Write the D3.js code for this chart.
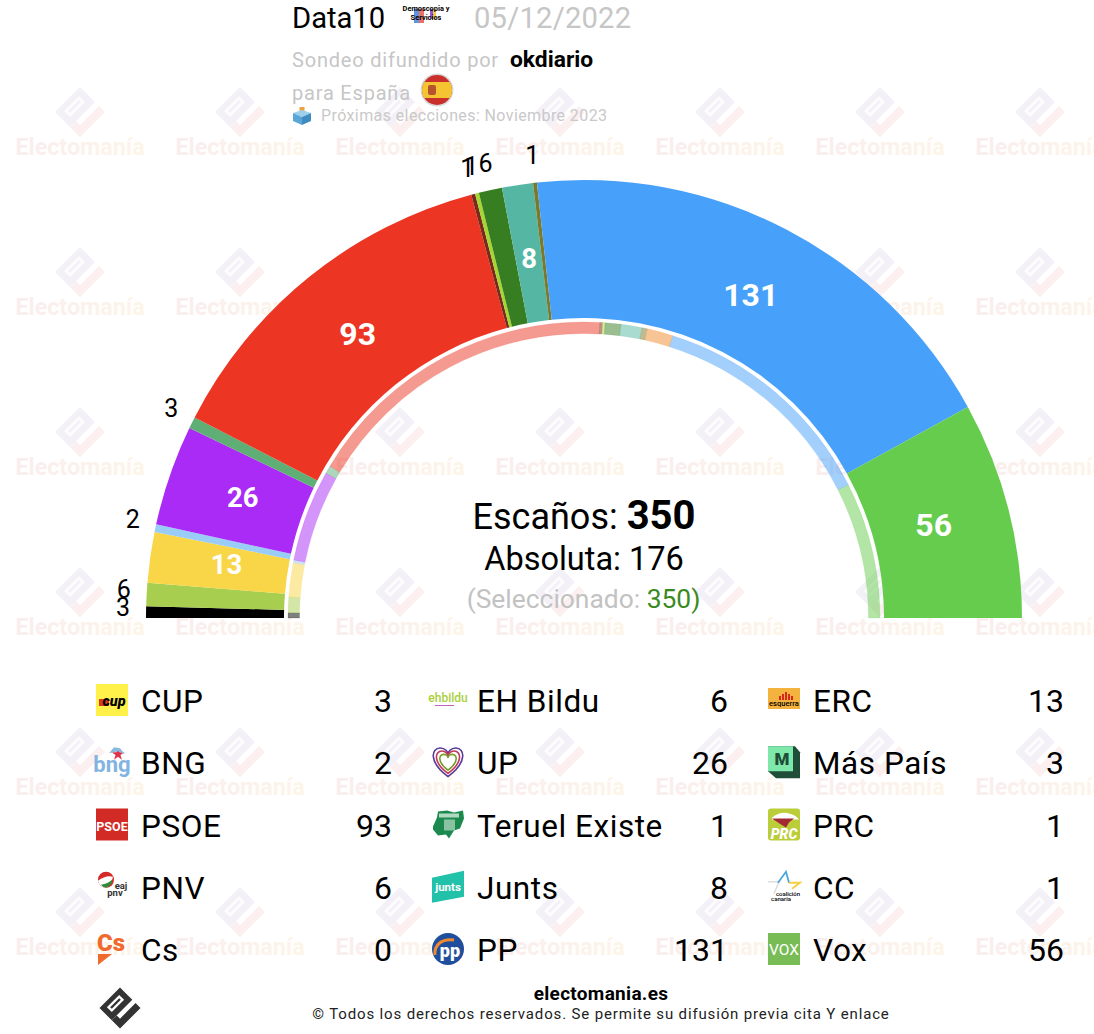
<!DOCTYPE html>
<html><head><meta charset="utf-8">
<script src="https://cdn.jsdelivr.net/npm/d3@7"></script>
<style>
html,body{margin:0;padding:0;background:#fff}
svg{display:block}
text{font-family:Roboto,sans-serif}
</style></head><body>
<svg id="c" width="1094" height="1034"></svg>
<script>
// ---- data ----
const arcParties = ["CUP","EH Bildu","ERC","BNG","UP","Más País","PSOE","Teruel Existe","PRC","PNV","Junts","CC","PP","Vox"];
const arcSeats   = [3,6,13,2,26,3,93,1,1,6,8,1,131,56];
const arcColors  = ["#000000","#a7ce4f","#f9d648","#99ccf7","#a92bf5","#5fae75","#ec3523","#7a2a1a","#a6d632","#377d22","#55b7a3","#7b7a2a","#47a0f9","#66cc4e"];
const prevParties= ["CUP","EH Bildu","ERC","BNG","UP","Más País","PSOE","Teruel Existe","PRC","PNV","Junts","CC","Cs","PP","Vox"];
const prevSeats  = [2,6,13,1,35,3,121,1,1,6,8,2,10,89,52];
const prevColors = ["#000000","#a7ce4f","#f9d648","#99ccf7","#a92bf5","#5fae75","#ec3523","#7a2a1a","#a6d632","#377d22","#55b7a3","#7b7a2a","#f08a2c","#47a0f9","#66cc4e"];
const legendCol1 = ["CUP","BNG","PSOE","PNV","Cs"];
const legendVal1 = [3,2,93,6,0];
const legendCol2 = ["EH Bildu","UP","Teruel Existe","Junts","PP"];
const legendVal2 = [6,26,1,8,131];
const legendCol3 = ["ERC","Más País","PRC","CC","Vox"];
const legendVal3 = [13,3,1,1,56];
const totalSeats = 350;
const absolute = 176;
const selected = 350;

const svg = d3.select("#c");
const defs = svg.append("defs");
const wg = defs.append("linearGradient").attr("id","wm");
wg.append("stop").attr("offset","0").attr("stop-color","#f9edee");
wg.append("stop").attr("offset","1").attr("stop-color","#fdf5e8");

// Electomanía mark, centred on 0,0
function mark(g, cBlock, cCheck, slot){
  g.append("path").attr("d","M-25,0L0,-25L15,-10L-10,15Z").attr("fill",cBlock);
  g.append("path").attr("d","M-16,-1L-1,-16L5,-10L-10,5Z").attr("fill",slot);
  g.append("path").attr("d","M-12,-1L-1,-12L1,-10L-10,1Z").attr("fill",cBlock);
  g.append("path").attr("d","M0,25L25,0L19,-6L0,13L-4,9L-10,15Z").attr("fill",cCheck);
}
// watermark grid
const wmX = d3.range(80,1100,160), wmY = d3.range(112,1000,160);
const wm = svg.append("g");
wmY.forEach(y=>wmX.forEach(x=>{
  const g = wm.append("g").attr("transform",`translate(${x},${y})`);
  mark(g,"#f4f0f7","#fbeff0","#fdfcfd");
  g.append("text").attr("y",43).attr("text-anchor","middle").attr("font-size",23.3).attr("font-weight",700)
   .attr("fill","url(#wm)").text("Electomanía");
}));

// ---- hemicycle ----
const cx=584, cy=618;
const angle = d3.scaleLinear().domain([0,totalSeats]).range([-Math.PI/2,Math.PI/2]);
const chart = svg.append("g").attr("transform",`translate(${cx},${cy})`);
const mainArc = d3.arc().innerRadius(300).outerRadius(438);
const ringArc = d3.arc().innerRadius(284.5).outerRadius(296);
const cumA = [0,...d3.cumsum(arcSeats)];
const cumP = [0,...d3.cumsum(prevSeats)];

chart.selectAll("path.m").data(arcSeats).join("path").attr("class","m")
  .attr("d",(d,i)=>mainArc({startAngle:angle(cumA[i]),endAngle:angle(cumA[i+1])}))
  .attr("fill",(d,i)=>arcColors[i]);
chart.selectAll("path.r").data(prevSeats).join("path").attr("class","r")
  .attr("d",(d,i)=>ringArc({startAngle:angle(cumP[i]),endAngle:angle(cumP[i+1])}))
  .attr("fill",(d,i)=>prevColors[i]).attr("fill-opacity",.5)
  .attr("stroke",(d,i)=>prevColors[i]).attr("stroke-opacity",.25).attr("stroke-width",.6);

const pt=(i,r)=>{const a=angle((cumA[i]+cumA[i+1])/2);return [r*Math.sin(a),-r*Math.cos(a)];};
chart.selectAll("text.v").data(arcSeats).join("text").attr("class","v")
  .attr("text-anchor","middle").attr("dominant-baseline","central")
  .each(function(d,i){
    const big=d>=8, p=pt(i,big?361:461);
    d3.select(this).attr("x",p[0]).attr("y",p[1]+(big?-3:-4))
      .attr("font-size",big?(d>=50?32:27.5):25).attr("font-weight",big?700:400)
      .attr("fill",big?"#fff":"#000").text(d);
  });

// ---- centre text ----
const ct = svg.append("g").attr("text-anchor","middle");
const t1 = ct.append("text").attr("x",584).attr("y",529).attr("font-size",36);
t1.append("tspan").text("Escaños: ");
t1.append("tspan").attr("font-weight",700).attr("font-size",40).text(totalSeats);
ct.append("text").attr("x",584).attr("y",570).attr("font-size",32.5).text("Absoluta: "+absolute);
const t3 = ct.append("text").attr("x",583.5).attr("y",608).attr("font-size",26.4).attr("fill","#c2c2c2");
t3.append("tspan").text("(Seleccionado: ");
t3.append("tspan").attr("fill","#3a8a22").text(selected);
t3.append("tspan").attr("fill","#3a8a22").text(")");

// ---- header ----
const h = svg.append("g");
h.append("text").attr("x",292).attr("y",28).attr("font-size",29.2).text("Data10");
h.append("text").attr("x",474).attr("y",28).attr("font-size",29.2).attr("letter-spacing",.2).attr("fill","#c6c6c6").text("05/12/2022");
h.append("text").attr("x",292).attr("y",67).attr("font-size",20).attr("letter-spacing",.8).attr("fill","#c6c6c6").text("Sondeo difundido por");
h.append("text").attr("x",510).attr("y",67).attr("font-size",22.8).attr("font-weight",700).text("okdiario");
h.append("text").attr("x",292).attr("y",100).attr("font-size",20).attr("letter-spacing",.8).attr("fill","#c6c6c6").text("para España");
h.append("text").attr("x",321).attr("y",121).attr("font-size",16).attr("letter-spacing",.4).attr("fill","#c9c9c9").text("Próximas elecciones: Noviembre 2023");
// pollster logo
const pl=h.append("g").attr("transform","translate(403,6)");
[["#3a78d8",11,5,14],["#e05040",16,5,14],["#7a2ad0",27,3,10],["#f0c020",30,3,10]].forEach(b=>
  pl.append("rect").attr("x",b[1]).attr("y",3).attr("width",b[2]).attr("height",b[3]).attr("fill",b[0]).attr("opacity",.8));
pl.append("text").attr("x",23).attr("y",5).attr("text-anchor","middle").attr("font-size",7.4).attr("font-weight",700).text("Demoscopia y");
pl.append("text").attr("x",23).attr("y",14).attr("text-anchor","middle").attr("font-size",7.4).attr("font-weight",700).text("Servicios");
// flag
const fl=h.append("g").attr("transform","translate(437,90)");
defs.append("clipPath").attr("id","fc").append("circle").attr("r",15);
fl.append("circle").attr("r",16.5).attr("fill","#d8d8d8");
const fc=fl.append("g").attr("clip-path","url(#fc)");
fc.append("rect").attr("x",-16).attr("y",-16).attr("width",32).attr("height",32).attr("fill","#c9302c");
fc.append("rect").attr("x",-16).attr("y",-8).attr("width",32).attr("height",16).attr("fill","#f4c531");
fc.append("rect").attr("x",-9).attr("y",-5).attr("width",8).attr("height",10).attr("rx",2).attr("fill","#b5532c");
// ballot icon
const bi=h.append("g").attr("transform","translate(302,116)");
bi.append("rect").attr("x",-2.5).attr("y",-9).attr("width",5).attr("height",6).attr("fill","#f0a040");
bi.append("path").attr("d","M-9,-3L0,-6L9,-3L0,1Z").attr("fill","#9dd0ea");
bi.append("path").attr("d","M-9,-3L0,1V9L-9,5Z").attr("fill","#5ba6d6");
bi.append("path").attr("d","M9,-3L0,1V9L9,5Z").attr("fill","#3f8cc0");

// ---- legend ----
const rowY = d3.scalePoint().domain(d3.range(5)).range([701,950]);
const logos = {
 "CUP":g=>{g.append("rect").attr("width",32).attr("height",32).attr("fill","#fff04a");
   g.append("rect").attr("x",3).attr("y",15).attr("width",10).attr("height",7).attr("fill","#d83a20");
   g.append("text").attr("x",18).attr("y",22).attr("text-anchor","middle").attr("font-size",14.5).attr("font-weight",900).attr("font-style","italic").text("cup");},
 "BNG":g=>{g.append("path").attr("d",d3.symbol(d3.symbolStar,50)()).attr("transform","translate(22,8)").attr("fill","#e0304a");
   g.append("path").attr("d","M13,7L18,1L24,2L29,8L22,5Z").attr("fill","#8ab8e0");
   g.append("text").attr("x",16).attr("y",26).attr("text-anchor","middle").attr("font-size",22).attr("font-weight",700).attr("fill","#82b4e2").text("bng");},
 "PSOE":g=>{g.append("rect").attr("width",32).attr("height",32).attr("fill","#d22b25");
   g.append("text").attr("x",16).attr("y",22).attr("text-anchor","middle").attr("font-size",12.5).attr("font-weight",700).attr("fill","#fff").text("PSOE");},
 "PNV":g=>{g.append("circle").attr("cx",10).attr("cy",9).attr("r",8).attr("fill","#d42a2a");
   g.append("path").attr("d","M2,10Q10,4 17,6Q15,16 8,17Q3,15 2,10Z").attr("fill","#fff");
   g.append("path").attr("d","M5,14Q12,13 16,9Q17,14 10,17Q7,17 5,14Z").attr("fill","#2f8a3a");
   g.append("text").attr("x",25).attr("y",18).attr("text-anchor","middle").attr("font-size",9.5).attr("font-weight",700).attr("fill","#333").text("eaj");
   g.append("text").attr("x",19).attr("y",25).attr("text-anchor","middle").attr("font-size",9.5).attr("font-weight",700).attr("fill","#333").text("pnv");},
 "Cs":g=>{g.append("text").attr("x",1).attr("y",18).attr("font-size",24).attr("font-weight",900).attr("fill","#ef6a2c").text("Cs");
   g.append("path").attr("d","M2,21H16L2,32Z").attr("fill","#ef6a2c");},
 "EH Bildu":g=>{g.append("text").attr("x",16).attr("y",18).attr("text-anchor","middle").attr("font-size",12).attr("font-weight",500).attr("fill","#a9cf3c").text("ehbildu");
   g.append("rect").attr("x",3).attr("y",21).attr("width",19).attr("height",1).attr("fill","#c060c0");},
 "UP":g=>{const hp="M0,11C-15,0 -13,-11 -6,-11C-2,-11 0,-8 0,-6C0,-8 2,-11 6,-11C13,-11 15,0 0,11Z";
   [[1.3,"#5a3a9a"],[1.02,"#c0395a"],[.72,"#7a9a2a"]].forEach(a=>g.append("path").attr("d",hp)
    .attr("transform",`translate(16,16) scale(${a[0]})`).attr("fill","none").attr("stroke",a[1]).attr("stroke-width",1.6/a[0]));},
 "Teruel Existe":g=>{g.append("path").attr("d","M1,18L5,9L6,3L15,2L22,4L31,2L32,10L28,20L22,22L17,30L14,26L6,27L1,21Z").attr("fill","#1c8a4e");
   g.append("rect").attr("x",7).attr("y",5).attr("width",20).attr("height",4).attr("fill","#d8ecdf").attr("opacity",.8);
   g.append("rect").attr("x",12).attr("y",11).attr("width",11).attr("height",11).attr("fill","#b8dcc5").attr("opacity",.7);},
 "Junts":g=>{g.append("path").attr("d","M0,7L32,0V26L0,32Z").attr("fill","#22c1aa");
   g.append("text").attr("x",16).attr("y",20).attr("text-anchor","middle").attr("font-size",11.5).attr("font-weight",700).attr("fill","#fff").text("junts");},
 "PP":g=>{g.append("circle").attr("cx",16).attr("cy",16).attr("r",16).attr("fill","#1f4f9c");
   g.append("path").attr("d","M3,22C2,12 10,5 22,7").attr("fill","none").attr("stroke","#f08a30").attr("stroke-width",3);
   g.append("text").attr("x",18).attr("y",24).attr("text-anchor","middle").attr("font-size",18).attr("font-weight",900).attr("fill","#fff").text("pp");},
 "ERC":g=>{g.append("rect").attr("y",4).attr("width",32).attr("height",21).attr("fill","#f4b33e");
   [[11,4],[14,6],[17,8],[20,6],[23,4]].forEach(b=>g.append("rect").attr("x",b[0]).attr("y",16-b[1]).attr("width",2).attr("height",b[1]).attr("fill","#d8281e"));
   g.append("text").attr("x",16).attr("y",22).attr("text-anchor","middle").attr("font-size",7.6).attr("font-weight",500).text("esquerra");},
 "Más País":g=>{g.append("path").attr("d","M0,25V0H27L32,6V32H8Z").attr("fill","#1f4d38");
   g.append("rect").attr("width",25).attr("height",25).attr("fill","#7ee8aa");
   g.append("text").attr("x",14).attr("y",19).attr("text-anchor","middle").attr("font-size",17).attr("font-weight",900).attr("fill","#1f4d38").text("M");},
 "PRC":g=>{g.append("rect").attr("width",32).attr("height",32).attr("rx",3).attr("fill","#bccd3a");
   g.append("path").attr("d","M4,9Q15,0 28,8L31,11H4Z").attr("fill","#fff");
   g.append("path").attr("d","M4,10H26L21,14L18,19L13,16Z").attr("fill","#a32a33");
   g.append("text").attr("x",16).attr("y",30).attr("text-anchor","middle").attr("font-size",14).attr("font-weight",900).attr("font-style","italic").attr("fill","#fff").text("PRC");},
 "CC":g=>{g.append("path").attr("d","M0,11H11L6,23").attr("fill","none").attr("stroke","#ddd").attr("stroke-width",1.6);
   g.append("path").attr("d","M10,12L18,1L21,12").attr("fill","none").attr("stroke","#4aa6dc").attr("stroke-width",1.8);
   g.append("path").attr("d","M21,12H32L24,18").attr("fill","none").attr("stroke","#f5cf40").attr("stroke-width",1.8);
   g.append("text").attr("x",20).attr("y",25).attr("text-anchor","middle").attr("font-size",6).attr("font-weight",500).text("coalición");
   g.append("text").attr("x",13).attr("y",30).attr("text-anchor","middle").attr("font-size",6).attr("font-weight",500).text("canaria");},
 "Vox":g=>{g.append("rect").attr("width",32).attr("height",32).attr("fill","#78bc55");
   g.append("text").attr("x",16).attr("y",21.5).attr("text-anchor","middle").attr("font-size",15.5).attr("fill","#fff").text("VOX");}
};
[[legendCol1,legendVal1,96,392],[legendCol2,legendVal2,432,728],[legendCol3,legendVal3,768,1064]].forEach(([names,vals,x0,xr])=>{
  names.forEach((n,i)=>{
    const y=rowY(i);
    const lg=svg.append("g").attr("transform",`translate(${x0},${y-17})`);
    logos[n](lg);
    svg.append("text").attr("x",x0+45).attr("y",y+11).attr("font-size",31.5).attr("letter-spacing",.55).text(n);
    svg.append("text").attr("x",xr).attr("y",y+11).attr("text-anchor","end").attr("font-size",32).text(vals[i]);
  });
});

// ---- footer ----
const fm=svg.append("g").attr("transform","translate(120,1008) scale(.82)");
mark(fm,"#333","#333","#fff");
svg.append("text").attr("x",601).attr("y",1000).attr("text-anchor","middle").attr("font-size",19).attr("letter-spacing",.3).attr("font-weight",700).text("electomania.es");
svg.append("text").attr("x",601).attr("y",1019).attr("text-anchor","middle").attr("font-size",15).attr("letter-spacing",.85).attr("fill","#222").text("© Todos los derechos reservados. Se permite su difusión previa cita Y enlace");
</script>
</body></html>
